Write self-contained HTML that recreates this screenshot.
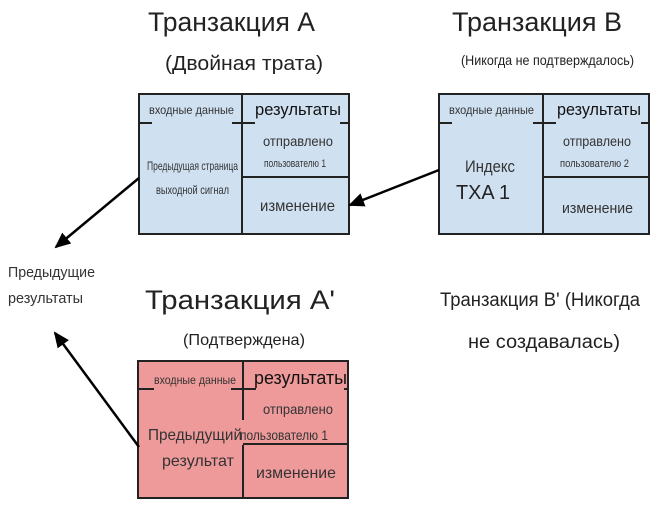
<!DOCTYPE html>
<html><head><meta charset="utf-8"><style>
html,body{margin:0;padding:0;background:#fff;}
svg{display:block;font-family:"Liberation Sans",sans-serif;}
</style></head><body>
<svg width="670" height="515" viewBox="0 0 670 515" xmlns="http://www.w3.org/2000/svg">
<defs>
<marker id="ah" markerWidth="16" markerHeight="14" refX="14" refY="7" orient="auto" markerUnits="userSpaceOnUse">
<path d="M0,0 L16,7 L0,14 z" fill="#000"/>
</marker>
</defs>
<g fill="#222">
<text x="148" y="31" font-size="27" textLength="167" lengthAdjust="spacingAndGlyphs">Транзакция A</text>
<text x="165" y="70" font-size="20" textLength="158" lengthAdjust="spacingAndGlyphs">(Двойная трата)</text>
<text x="452" y="31" font-size="27" textLength="170" lengthAdjust="spacingAndGlyphs">Транзакция B</text>
<text x="461" y="65" font-size="14" textLength="173" lengthAdjust="spacingAndGlyphs">(Никогда не подтверждалось)</text>
<text x="8" y="277" font-size="15" textLength="87" lengthAdjust="spacingAndGlyphs" fill="#333">Предыдущие</text>
<text x="8" y="303" font-size="15" textLength="75" lengthAdjust="spacingAndGlyphs" fill="#333">результаты</text>
<text x="145" y="309" font-size="27" textLength="190" lengthAdjust="spacingAndGlyphs">Транзакция A'</text>
<text x="183" y="345" font-size="16" textLength="122" lengthAdjust="spacingAndGlyphs">(Подтверждена)</text>
<text x="440" y="306" font-size="19" textLength="200" lengthAdjust="spacingAndGlyphs">Транзакция B' (Никогда</text>
<text x="468" y="348" font-size="19" textLength="152" lengthAdjust="spacingAndGlyphs">не создавалась)</text>
</g>

<g stroke="#222" stroke-width="2" fill="none">
<rect x="139" y="94" width="210" height="140" fill="#cfe0f1"/>
<line x1="242" y1="94" x2="242" y2="234"/>
<line x1="242" y1="177" x2="349" y2="177"/>
<line x1="140" y1="123" x2="152" y2="123"/>
<line x1="232" y1="123" x2="255" y2="123"/>
<line x1="340" y1="123" x2="349" y2="123"/>
</g>
<g fill="#333">
<text x="149" y="114" font-size="12" textLength="85" lengthAdjust="spacingAndGlyphs">входные данные</text>
<text x="255" y="115" font-size="17" textLength="86" lengthAdjust="spacingAndGlyphs" fill="#111">результаты</text>
<text x="263" y="146" font-size="14" textLength="70" lengthAdjust="spacingAndGlyphs">отправлено</text>
<text x="264" y="167" font-size="11" textLength="62" lengthAdjust="spacingAndGlyphs">пользователю 1</text>
<text x="147" y="170" font-size="12" textLength="91" lengthAdjust="spacingAndGlyphs">Предыдущая страница</text>
<text x="156" y="194" font-size="12" textLength="73" lengthAdjust="spacingAndGlyphs">выходной сигнал</text>
<text x="260" y="211" font-size="16" textLength="75" lengthAdjust="spacingAndGlyphs">изменение</text>
</g>

<g stroke="#222" stroke-width="2" fill="none">
<rect x="439" y="94" width="210" height="140" fill="#cfe0f1"/>
<line x1="543" y1="94" x2="543" y2="234"/>
<line x1="543" y1="177" x2="649" y2="177"/>
<line x1="440" y1="123" x2="452" y2="123"/>
<line x1="533" y1="123" x2="556" y2="123"/>
<line x1="641" y1="123" x2="649" y2="123"/>
</g>
<g fill="#333">
<text x="449" y="114" font-size="12" textLength="85" lengthAdjust="spacingAndGlyphs">входные данные</text>
<text x="557" y="115" font-size="17" textLength="84" lengthAdjust="spacingAndGlyphs" fill="#111">результаты</text>
<text x="563" y="146" font-size="14" textLength="68" lengthAdjust="spacingAndGlyphs">отправлено</text>
<text x="560" y="167" font-size="11" textLength="69" lengthAdjust="spacingAndGlyphs">пользователю 2</text>
<text x="465" y="172" font-size="17" textLength="50" lengthAdjust="spacingAndGlyphs">Индекс</text>
<text x="456" y="199" font-size="20" textLength="54" lengthAdjust="spacingAndGlyphs" fill="#222">TXA 1</text>
<text x="562" y="213" font-size="15" textLength="71" lengthAdjust="spacingAndGlyphs">изменение</text>
</g>

<g stroke="#222" stroke-width="2" fill="none">
<rect x="138" y="361" width="210" height="137" fill="#ee9a9a"/>
<line x1="243" y1="361" x2="243" y2="420"/>
<line x1="243" y1="445" x2="243" y2="498"/>
<line x1="243" y1="444" x2="348" y2="444"/>
<line x1="139" y1="389" x2="154" y2="389"/>
<line x1="231" y1="389" x2="256" y2="389"/>
<line x1="344" y1="389" x2="348" y2="389"/>
</g>
<g fill="#333">
<text x="154" y="384" font-size="12" textLength="82" lengthAdjust="spacingAndGlyphs">входные данные</text>
<text x="254" y="384" font-size="18" textLength="93" lengthAdjust="spacingAndGlyphs" fill="#111">результаты</text>
<text x="263" y="414" font-size="14" textLength="70" lengthAdjust="spacingAndGlyphs">отправлено</text>
<text x="148" y="440" font-size="16" textLength="94" lengthAdjust="spacingAndGlyphs">Предыдущий</text>
<text x="240" y="440" font-size="14" textLength="88" lengthAdjust="spacingAndGlyphs">пользователю 1</text>
<text x="162" y="466" font-size="16" textLength="72" lengthAdjust="spacingAndGlyphs">результат</text>
<text x="256" y="478" font-size="16" textLength="80" lengthAdjust="spacingAndGlyphs">изменение</text>
</g>

<g stroke="#000" stroke-width="2.5" fill="none">
<line x1="139" y1="178" x2="56" y2="247" marker-end="url(#ah)"/>
<line x1="439" y1="170" x2="350" y2="205" marker-end="url(#ah)"/>
<line x1="139" y1="447" x2="55" y2="333" marker-end="url(#ah)"/>
</g>
</svg>
</body></html>
